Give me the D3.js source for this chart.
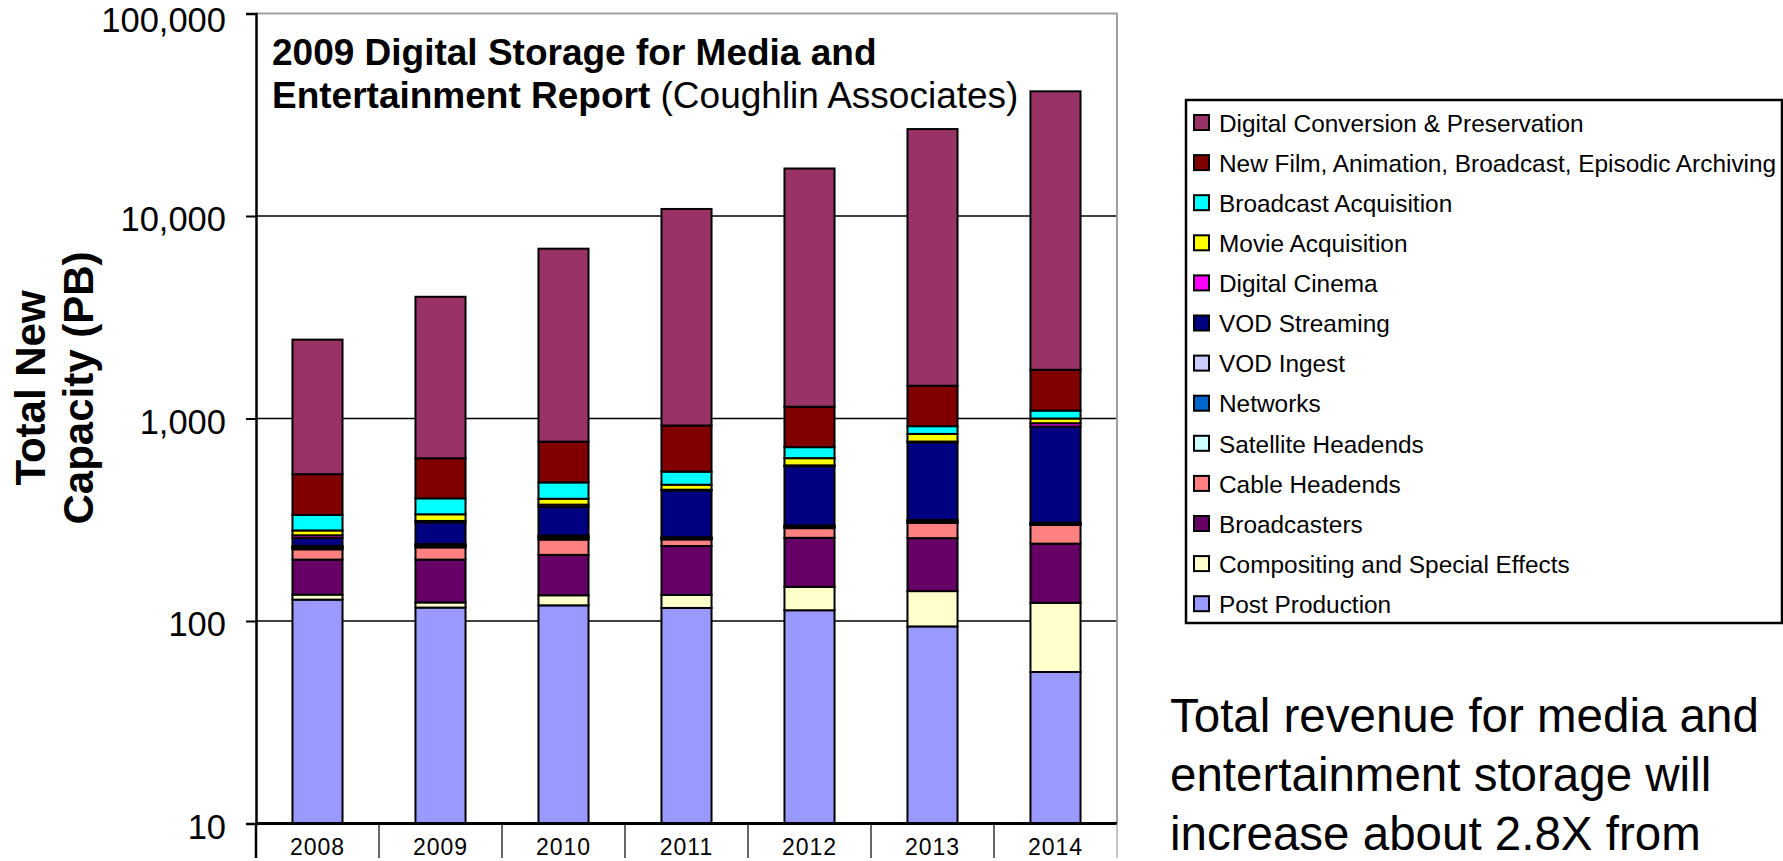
<!DOCTYPE html>
<html>
<head>
<meta charset="utf-8">
<script src="https://cdn.jsdelivr.net/npm/d3@7"></script>
<style>
  html, body { margin: 0; padding: 0; background: #fff; }
  svg { display: block; font-family: "Liberation Sans", Arial, sans-serif; }
</style>
</head>
<body>
<svg id="chart" width="1783" height="861"></svg>
<script>
// ---- data (PB, total new capacity) ----
const years = ["2008", "2009", "2010", "2011", "2012", "2013", "2014"];
const postProduction       = [127.5, 116.5, 119.5, 116, 113, 94, 56];
const compositing          = [7.5, 7, 14.5, 18.5, 34.5, 46.5, 67];
const broadcasters         = [66, 77.5, 78, 100, 110, 116, 118];
const cableHeadends        = [25, 30, 40.5, 18.5, 30, 49, 57];
const satelliteHeadends    = [3, 3, 4, 2, 3, 3.5, 3];
const networks             = [3, 3, 4, 2, 3, 3, 3];
const vodIngest            = [3, 3, 3.5, 2, 3, 3.5, 2];
const vodStreaming         = [22, 67, 101.5, 182, 284.5, 447, 607];
const digitalCinema        = [8, 5, 10, 4, 6, 7, 35];
const movieAcquisition     = [15, 24.5, 26, 26, 50, 70, 52];
const broadcastAcquisition = [54, 67, 82, 75.5, 85, 77, 95];
const newFilmArchiving     = [197, 233, 285, 377, 421, 535, 645];
const digitalConversion    = [1921, 3354, 6127, 9909, 16017, 25420, 39537];

const yTicks = [10, 100, 1000, 10000, 100000];

// series in stacking order (bottom -> top)
const series = [
  { key: "Post Production", values: postProduction, color: "#9999FF" },
  { key: "Compositing and Special Effects", values: compositing, color: "#FFFFCC" },
  { key: "Broadcasters", values: broadcasters, color: "#660066" },
  { key: "Cable Headends", values: cableHeadends, color: "#FF8080" },
  { key: "Satellite Headends", values: satelliteHeadends, color: "#CCFFFF" },
  { key: "Networks", values: networks, color: "#0066CC" },
  { key: "VOD Ingest", values: vodIngest, color: "#CCCCFF" },
  { key: "VOD Streaming", values: vodStreaming, color: "#000080" },
  { key: "Digital Cinema", values: digitalCinema, color: "#FF00FF" },
  { key: "Movie Acquisition", values: movieAcquisition, color: "#FFFF00" },
  { key: "Broadcast Acquisition", values: broadcastAcquisition, color: "#00FFFF" },
  { key: "New Film, Animation, Broadcast, Episodic Archiving", values: newFilmArchiving, color: "#800000" },
  { key: "Digital Conversion & Preservation", values: digitalConversion, color: "#993366" }
];

const table = years.map((yr, i) => {
  const row = { year: yr };
  series.forEach(s => row[s.key] = s.values[i]);
  return row;
});

const svg = d3.select("#chart");
const pLeft = 256, pRight = 1117, pTop = 13.5, pBottom = 823.5;

const y = d3.scaleLog().domain([10, 100000]).range([pBottom, pTop]);
const xCat = d3.scaleBand().domain(years).range([pLeft, pRight]).padding(0);
const x = d3.scaleBand().domain(years).range([pLeft, pRight])
  .paddingInner(0.593).paddingOuter(0.2965);

// gridlines
svg.append("g").selectAll("line")
  .data(yTicks.filter(t => t > 10 && t < 100000))
  .join("line")
  .attr("x1", pLeft).attr("x2", pRight)
  .attr("y1", d => y(d)).attr("y2", d => y(d))
  .attr("stroke", "#000").attr("stroke-width", 1.5);

// plot border top & right (grey)
svg.append("path")
  .attr("d", `M${pLeft},${pTop}H${pRight}V${pBottom}`)
  .attr("fill", "none").attr("stroke", "#a0a0a0").attr("stroke-width", 2);

// stacked bars
const stack = d3.stack().keys(series.map(s => s.key));
const stacked = stack(table);
const gBars = svg.append("g");
stacked.forEach((layer, li) => {
  gBars.append("g")
    .attr("fill", series[li].color)
    .selectAll("rect")
    .data(layer)
    .join("rect")
    .attr("x", d => x(d.data.year))
    .attr("width", x.bandwidth())
    .attr("y", d => y(Math.max(d[1], 10)))
    .attr("height", d => y(Math.max(d[0], 10)) - y(Math.max(d[1], 10)))
    .attr("stroke", "#000").attr("stroke-width", 2);
});

// y axis
const yAxis = d3.axisLeft(y).tickValues(yTicks).tickFormat(d3.format(","))
  .tickSize(10).tickPadding(20);
const gy = svg.append("g").attr("transform", `translate(${pLeft},0)`).call(yAxis);
gy.select(".domain").attr("stroke", "#000").attr("stroke-width", 2.5);
gy.selectAll(".tick line").attr("stroke", "#000").attr("stroke-width", 2);
gy.selectAll(".tick text").attr("font-size", 34.5).attr("fill", "#000")
  .attr("dy", d => d === 100000 ? "0.52em" : "0.42em")
  .attr("font-family", "'Liberation Sans', Arial, sans-serif");

// x axis line + category separators
svg.append("line").attr("x1", pLeft).attr("x2", pRight)
  .attr("y1", pBottom).attr("y2", pBottom)
  .attr("stroke", "#000").attr("stroke-width", 3);
const seps = years.map(yv => xCat(yv)).concat([pRight]);
svg.append("g").selectAll("line").data(seps).join("line")
  .attr("x1", d => d).attr("x2", d => d)
  .attr("y1", pBottom).attr("y2", 858)
  .attr("stroke", (d, i) => i === seps.length - 1 ? "#a0a0a0" : "#000")
  .attr("stroke-width", (d, i) => i === 0 ? 2.5 : 1.2);
svg.append("g").selectAll("text").data(years).join("text")
  .attr("x", d => xCat(d) + xCat.bandwidth() / 2)
  .attr("y", 855)
  .attr("text-anchor", "middle")
  .attr("font-size", 23).attr("letter-spacing", 1)
  .text(d => d);

// y axis title
const yTitle = svg.append("g").attr("font-weight", "bold").attr("font-size", 42)
  .attr("text-anchor", "middle");
yTitle.append("text").attr("transform", "translate(45,388) rotate(-90)").text("Total New");
yTitle.append("text").attr("transform", "translate(93,388) rotate(-90)").text("Capacity (PB)");

// chart title
svg.append("text").attr("x", 272).attr("y", 65).attr("font-size", 37)
  .attr("font-weight", "bold").text("2009 Digital Storage for Media and");
const t2 = svg.append("text").attr("x", 272).attr("y", 108).attr("font-size", 37);
t2.append("tspan").attr("font-weight", "bold").text("Entertainment Report");
t2.append("tspan").text(" (Coughlin Associates)");

// legend
const legX = 1186, legY = 100, legW = 596, legH = 523;
svg.append("rect").attr("x", legX).attr("y", legY).attr("width", legW).attr("height", legH)
  .attr("fill", "#fff").attr("stroke", "#000").attr("stroke-width", 2.5);
const legendItems = series.slice().reverse();
const lg = svg.append("g").selectAll("g").data(legendItems).join("g")
  .attr("transform", (d, i) => `translate(0,${123 + i * 40.1})`);
lg.append("rect").attr("x", 1194).attr("y", -8).attr("width", 15).attr("height", 15)
  .attr("fill", d => d.color).attr("stroke", "#000").attr("stroke-width", 2);
lg.append("text").attr("x", 1219).attr("y", 0).attr("dy", "0.36em")
  .attr("font-size", 24.4).text(d => d.key);

// side note
const note = ["Total revenue for media and", "entertainment storage will", "increase about 2.8X from"];
svg.append("g").selectAll("text").data(note).join("text")
  .attr("x", 1170).attr("y", (d, i) => 732 + i * 59)
  .attr("font-size", 47.5).text(d => d);
</script>
</body>
</html>
